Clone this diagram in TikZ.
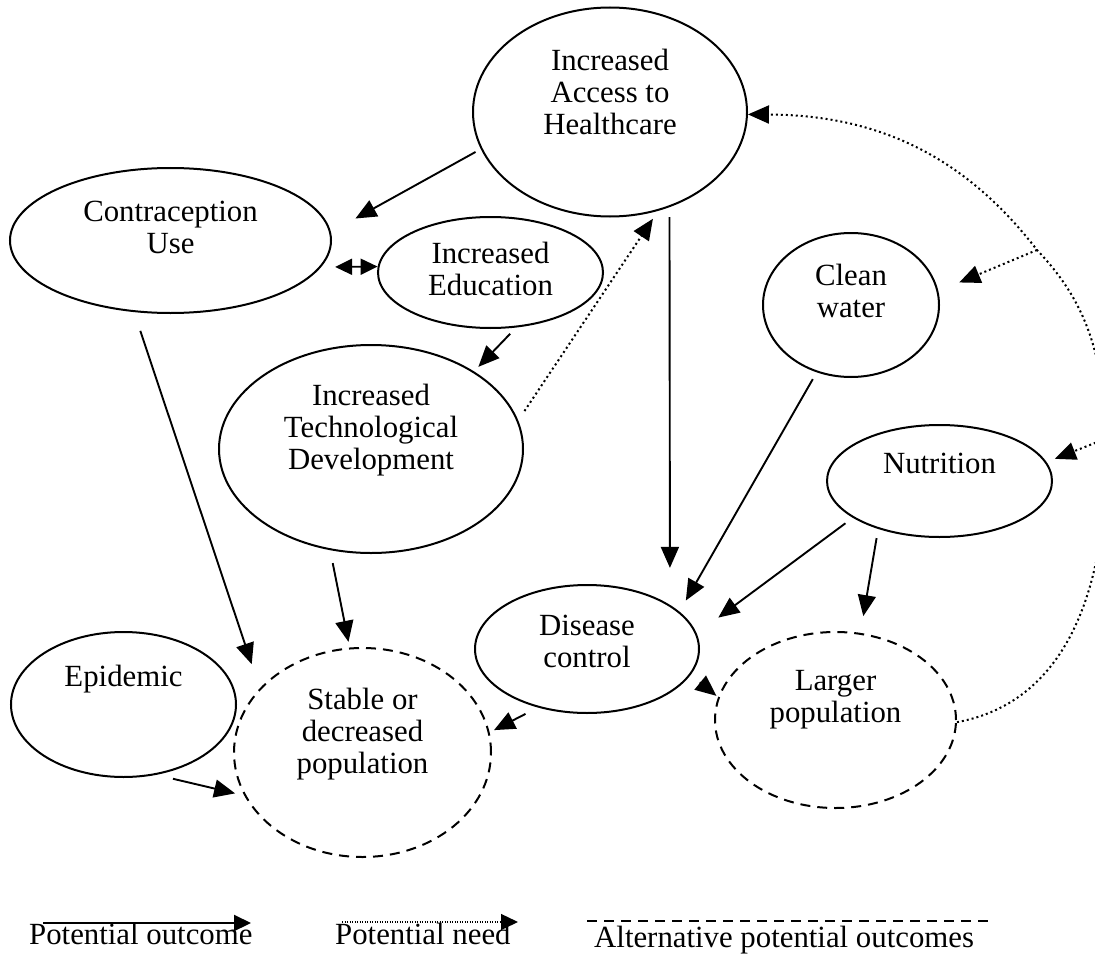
\documentclass[tikz,border=0pt]{standalone}
\usepackage{fontspec}
\setmainfont{Liberation Serif}
\usetikzlibrary{shapes.geometric,arrows.meta}

\begin{document}
\begin{tikzpicture}[x=1pt, y=-1pt,
    bubble/.style ={ellipse, draw=black, line width=2pt, inner sep=0pt},
    bubble_alt/.style ={bubble, dash pattern=on 10pt off 7pt},
    lbl/.style ={align=center, inner sep=0pt,
      font=\fontsize{30.8}{32}\selectfont},
    outcome/.style ={draw, line width=1.9pt,
      -{Triangle[length=21pt,width=18pt]}},
    need/.style ={draw, line width=2pt, dash pattern=on 2pt off 3pt,
      -{Triangle[length=21pt,width=18pt]}},
    both_ways/.style ={draw, line width=1.9pt,
      {Triangle[length=17pt,width=16pt]}-{Triangle[length=17pt,width=16pt]}}]
    \useasboundingbox (0,0) rectangle (1095,955);

    % causes - top half
    \node[bubble, minimum width=274pt, minimum height=209pt,
      label={[lbl, yshift=20.5pt]center:{Increased\\Access to\\Healthcare}}] (hc) at (610,112) {};
    \node[bubble, minimum width=321pt, minimum height=145pt,
      label={[lbl, yshift=13pt]center:{Contraception\\Use}}] (cu) at (170.5,240.5) {};
    \node[bubble, minimum width=225pt, minimum height=111pt,
      label={[lbl, yshift=3.5pt]center:{Increased\\Education}}] (ed) at (490.5,272.5) {};
    \node[bubble, minimum width=304pt, minimum height=208pt,
      label={[lbl, yshift=18.7pt]center:{Increased\\Technological\\Development}}] (td) at (371,449) {};
    \node[bubble, minimum width=176pt, minimum height=144pt,
      label={[lbl, yshift=14.5pt]center:{Clean\\water}}] (cw) at (851,305) {};
    \node[bubble, minimum width=225pt, minimum height=112pt,
      label={[lbl, yshift=18pt]center:{Nutrition}}] (nu) at (939.5,481) {};

    % bottom half
    \node[bubble, minimum width=224pt, minimum height=128pt,
      label={[lbl, yshift=7.8pt]center:{Disease\\control}}] (dc) at (587,649) {};
    \node[bubble, minimum width=225pt, minimum height=145pt,
      label={[lbl, yshift=25.7pt]center:{Epidemic}}] (ep) at (123.5,704.5) {};
    \node[bubble_alt, minimum width=257pt, minimum height=209pt,
      label={[lbl, yshift=18.2pt]center:{Stable or\\decreased\\population}}] (sd) at (362.5,752.5) {};
    \node[bubble_alt, minimum width=241pt, minimum height=176pt,
      label={[lbl, yshift=20pt]center:{Larger\\population}}] (lp) at (835.5,720) {};

    % potential outcomes
    \draw[outcome, shorten <=6pt, shorten >=28pt] (hc.196.7) -- (cu.3.9);
    \draw[outcome, shorten <=10pt, shorten >=37pt] (hc.-58.5) -- (dc.28.6);
    \draw[both_ways, shorten <=14pt] (cu.-10.5) -- (ed.177.7);
    \draw[outcome, shorten <=8.6pt, shorten >=6.3pt] (ed.-65.8) -- (td.37.3);
    \draw[outcome, shorten <=19.8pt, shorten >=25.4pt] (cu.-117.5) -- (sd.148.2);
    \draw[outcome, shorten <=13.2pt, shorten >=5.8pt] (td.-112.5) -- (sd.97.9);
    \draw[outcome, shorten <=17.1pt, shorten >=9.4pt] (ep.-65.4) -- (sd.-160);
    \draw[outcome, shorten <=13.9pt, shorten >=4.9pt] (dc.-130.8) -- (sd.9.1);
    \draw[outcome, shorten <=11.8pt, shorten >=2.1pt] (dc.-14.9) -- (lp.169.5);
    \draw[outcome, shorten <=7.8pt, shorten >=12.8pt] (cw.-117.2) -- (dc.22);
    \draw[outcome, shorten <=9.2pt, shorten >=26.8pt] (nu.-157.8) -- (dc.8.4);
    \draw[outcome, shorten <=9.3pt, shorten >=17pt] (nu.-142.9) -- (lp.74.7);

    % potential needs
    \draw[need, shorten <=11.3pt, shorten >=9.5pt] (td.11.5) -- (hc.-64.3);
    \begin{scope}
      \clip (0,0) rectangle (1095,955);
      \coordinate (nb) at (1105,439);
      \coordinate (cb) at (1037,250);
      \draw[need] (lp.-1) .. controls (1080,700) and (1110,560) .. (nb)
        .. controls (1105,340) and (1075,290) .. (cb)
        .. controls (960,150) and (870,115) .. (hc.-1);
      \draw[need, shorten >=22.6pt] (cb) -- (cw.9.6);
      \draw[need, shorten >=8.9pt] (nb) -- (nu.10.7);
    \end{scope}

    % legend
    \node[lbl, anchor=base west] (leg_out) at (29,944) {Potential outcome};
    \node[lbl, anchor=base west] (leg_need) at (335,944) {Potential need};
    \node[lbl, anchor=base west] (leg_alt) at (594,947) {Alternative potential outcomes};
    \coordinate (o1) at (43,923);
    \coordinate (o2) at (251,923);
    \coordinate (n1) at (342,922);
    \coordinate (n2) at (518,922);
    \coordinate (a1) at (587,921);
    \coordinate (a2) at (988,921);
    \draw[outcome, line width=2.2pt, -{Triangle[length=17pt,width=16pt]}] (o1) -- (o2);
    \draw[need, line width=1.4pt, dash pattern=on 1pt off 1.5pt,
      -{Triangle[length=17pt,width=16pt]}] (n1) -- (n2);
    \draw[line width=1.9pt, dash pattern=on 10pt off 7pt] (a1) -- (a2);
\end{tikzpicture}
\end{document}
